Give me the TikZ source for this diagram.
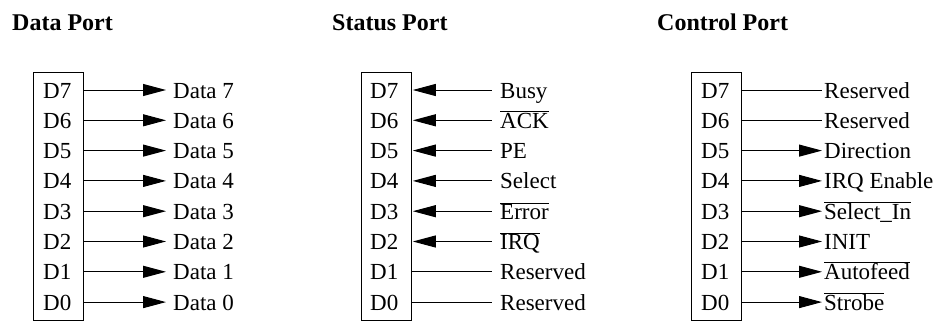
\documentclass[tikz,border=0pt]{standalone}
\usepackage{fontspec}
\setmainfont{Liberation Serif}
\usetikzlibrary{arrows.meta}
\newcommand\ovl[1]{$\overline{\hbox{#1}}$}
\begin{document}
\begin{tikzpicture}[x=1pt,y=-1pt,
  font=\fontsize{23}{26}\selectfont,
  portbox/.style={draw, line width=1.2pt, inner sep=0, minimum width=50pt, minimum height=248pt, anchor=north west},
  title/.style={anchor=base west, inner sep=0, font=\fontsize{24}{27}\selectfont\bfseries},
  pin/.style={anchor=west, inner sep=0, text height=18pt, text depth=2pt},
  sig/.style={anchor=west, inner sep=0, text height=18pt, text depth=2pt},
  wire/.style={line width=1pt},
  outarrow/.style={wire, -{Triangle[length=23pt,width=12pt]}},
  inarrow/.style={wire, {Triangle[length=23pt,width=12pt]}-}]
\useasboundingbox (0,0) rectangle (938,322);

% titles
\node[title] (tdata) at (12,30) {Data Port};
\node[title] (tstat) at (332,30) {Status Port};
\node[title] (tctrl) at (657,30) {Control Port};

% boxes
\node[portbox] (dbox) at (33,72) {};
\node[portbox] (sbox) at (361,72) {};
\node[portbox] (cbox) at (691,72) {};

% data port
\foreach \lab [count=\i from 0] in {Data 7,Data 6,Data 5,Data 4,Data 3,Data 2,Data 1,Data 0} {
  \pgfmathsetmacro\yy{90+30.3*\i}
  \pgfmathtruncatemacro\dn{7-\i}
  \node[pin] (dp\i) at (43,\yy) {D\dn};
  \node[sig] (ds\i) at (173,\yy) {\lab};
  \draw[outarrow, shorten >=7pt] (dbox.east |- ds\i.west) -- (ds\i.west);
}

% status port
\foreach \lab [count=\i from 0] in {Busy,\ovl{ACK},PE,Select,\ovl{Error},\ovl{IRQ},Reserved,Reserved} {
  \pgfmathsetmacro\yy{90+30.3*\i}
  \pgfmathtruncatemacro\dn{7-\i}
  \node[pin] (sp\i) at (370,\yy) {D\dn};
  \node[sig] (ss\i) at (500,\yy) {\lab};
  \ifnum\i<6
    \draw[inarrow, shorten <=0.6pt, shorten >=8pt] (sbox.east |- ss\i.west) -- (ss\i.west);
  \else
    \draw[wire, shorten >=8pt] (sbox.east |- ss\i.west) -- (ss\i.west);
  \fi
}

% control port
\foreach \lab [count=\i from 0] in {Reserved,Reserved,Direction,IRQ Enable,\ovl{Select\_In},INIT,\ovl{Autofeed},\ovl{Strobe}} {
  \pgfmathsetmacro\yy{90+30.3*\i}
  \pgfmathtruncatemacro\dn{7-\i}
  \node[pin] (cp\i) at (701,\yy) {D\dn};
  \node[sig] (cs\i) at (824,\yy) {\lab};
  \ifnum\i<2
    \draw[wire, shorten >=2pt] (cbox.east |- cs\i.west) -- (cs\i.west);
  \else
    \draw[outarrow, shorten >=2pt] (cbox.east |- cs\i.west) -- (cs\i.west);
  \fi
}
\end{tikzpicture}
\end{document}
